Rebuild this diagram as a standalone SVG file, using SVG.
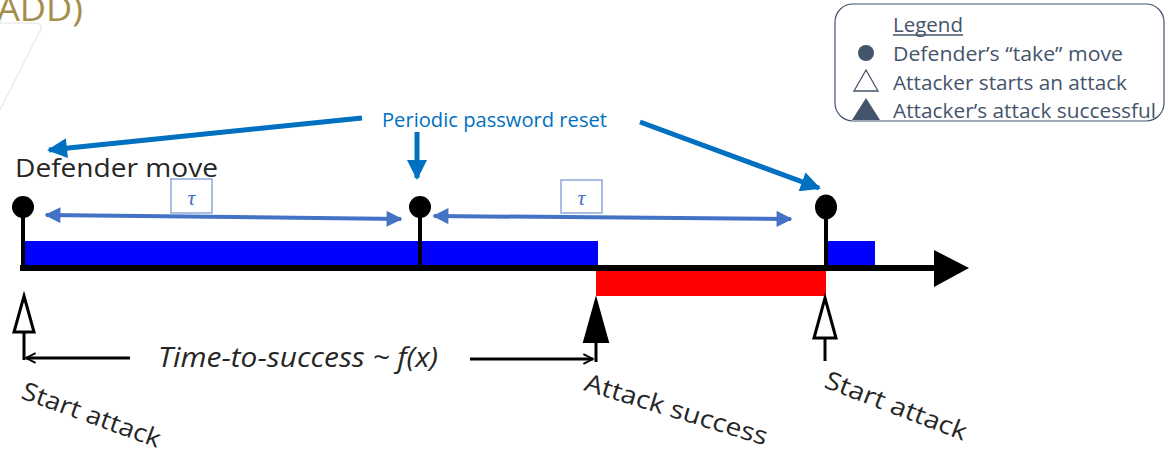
<svg xmlns="http://www.w3.org/2000/svg" width="1169" height="450" viewBox="0 0 1169 450">
  <defs>
    <style>
      .lbl { font-family: "Open Sans", "Liberation Sans", sans-serif; fill: #262626; }
      .leg { font-family: "Open Sans", "Liberation Sans", sans-serif; font-size: 19.5px; fill: #44546A; }
      .reset { stroke: #0070C0; stroke-width: 5; fill: none; }
      .tau { stroke: #4472C4; stroke-width: 4; fill: none; }
      .tbox { fill: #fff; stroke: #8EA9DB; stroke-width: 1.5; }
      .blk { stroke: #000; stroke-width: 4; fill: none; }
      .thin { stroke: #000; stroke-width: 3; fill: none; }
    </style>
    <marker id="headReset" viewBox="0 0 10 10" refX="9" refY="5" markerWidth="4.4" markerHeight="4" orient="auto" markerUnits="strokeWidth">
      <path d="M0,0 L10,5 L0,10 z" fill="#0070C0"/>
    </marker>
    <marker id="headTau" viewBox="0 0 10 10" refX="9" refY="5" markerWidth="5" markerHeight="4" orient="auto-start-reverse" markerUnits="strokeWidth">
      <path d="M0,0 L10,5 L0,10 z" fill="#4472C4"/>
    </marker>
    <marker id="headOpen" viewBox="0 0 10 10" refX="9" refY="5" markerWidth="4" markerHeight="4" orient="auto" markerUnits="strokeWidth">
      <path d="M1,1 L9,5 L1,9" fill="none" stroke="#000" stroke-width="1.6"/>
    </marker>
  </defs>

  <!-- heading fragment and faint frame line at top-left -->
  <text x="-3" y="21" font-family="'Open Sans', 'Liberation Sans', sans-serif" font-size="35" fill="#A58D4C" textLength="86" lengthAdjust="spacingAndGlyphs">ADD)</text>
  <path d="M0,23 L34,23 Q44,23 40,31 L0,110" fill="none" stroke="#ececec" stroke-width="1.5"/>

  <!-- time axis with ownership bars -->
  <g id="timeline">
    <rect x="24" y="241" width="574" height="26" fill="#0000FF"/>
    <rect x="826" y="241" width="49" height="26" fill="#0000FF"/>
    <rect x="596" y="270" width="230" height="26" fill="#FF0000"/>
    <line x1="20" y1="268" x2="940" y2="268" stroke="#000" stroke-width="6"/>
    <path d="M934,250 L969,268 L934,287 z" fill="#000"/>
  </g>

  <!-- defender moves -->
  <g id="defender-1">
    <line x1="23" y1="208" x2="23" y2="268" class="blk"/>
    <circle cx="23" cy="207" r="11" fill="#000"/>
  </g>
  <g id="defender-2">
    <line x1="420" y1="208" x2="420" y2="268" class="blk"/>
    <circle cx="420" cy="207" r="11" fill="#000"/>
  </g>
  <g id="defender-3">
    <line x1="826" y1="208" x2="826" y2="268" class="blk"/>
    <ellipse cx="826" cy="207" rx="11" ry="12.5" fill="#000"/>
  </g>
  <text class="lbl" x="15" y="177" font-size="26" textLength="203" lengthAdjust="spacingAndGlyphs">Defender move</text>

  <!-- attacker events -->
  <g id="attack-start-1">
    <path d="M24,296 L34,332 L14,332 z" fill="#fff" stroke="#000" stroke-width="3"/>
    <line x1="24" y1="332" x2="24" y2="360" class="thin"/>
  </g>
  <g id="attack-success">
    <path d="M596,299 L608,342 L584,342 z" fill="#000" stroke="#000" stroke-width="2"/>
    <line x1="596" y1="342" x2="596" y2="362" class="thin"/>
  </g>
  <g id="attack-start-2">
    <path d="M825,298 L836,338 L814,338 z" fill="#fff" stroke="#000" stroke-width="3"/>
    <line x1="825" y1="338" x2="825" y2="361" class="thin"/>
  </g>

  <!-- connectors -->
  <g id="connectors">
    <line x1="362" y1="118" x2="49" y2="150" class="reset" marker-end="url(#headReset)"/>
    <line x1="417" y1="132" x2="417" y2="178" class="reset" marker-end="url(#headReset)"/>
    <line x1="640" y1="122" x2="819" y2="188" class="reset" marker-end="url(#headReset)"/>
    <line x1="46" y1="215" x2="401" y2="219" class="tau" marker-start="url(#headTau)" marker-end="url(#headTau)"/>
    <line x1="434" y1="216" x2="791" y2="219" class="tau" marker-start="url(#headTau)" marker-end="url(#headTau)"/>
    <line x1="130" y1="358" x2="26" y2="358" class="thin" marker-end="url(#headOpen)"/>
    <line x1="470" y1="359" x2="593" y2="359" class="thin" marker-end="url(#headOpen)"/>
  </g>

  <!-- interval labels -->
  <g id="tau-1">
    <rect class="tbox" x="171" y="179" width="41" height="34"/>
    <text x="191.5" y="205" text-anchor="middle" font-family="'Liberation Serif', serif" font-style="italic" font-size="22" fill="#4472C4">τ</text>
  </g>
  <g id="tau-2">
    <rect class="tbox" x="561" y="180" width="41" height="33"/>
    <text x="581.5" y="205" text-anchor="middle" font-family="'Liberation Serif', serif" font-style="italic" font-size="22" fill="#4472C4">τ</text>
  </g>

  <text x="382" y="127" font-family="'Open Sans', 'Liberation Sans', sans-serif" font-size="20" fill="#0070C0" textLength="225" lengthAdjust="spacingAndGlyphs">Periodic password reset</text>
  <text class="lbl" x="158" y="367" font-size="28" font-style="italic" textLength="280" lengthAdjust="spacingAndGlyphs">Time-to-success ~ f(x)</text>

  <text class="lbl" font-size="25" textLength="146" lengthAdjust="spacingAndGlyphs" transform="translate(20,398) rotate(20)">Start attack</text>
  <text class="lbl" font-size="25" textLength="190" lengthAdjust="spacingAndGlyphs" transform="translate(583,390) rotate(17)">Attack success</text>
  <text class="lbl" font-size="25" textLength="150" lengthAdjust="spacingAndGlyphs" transform="translate(823,387) rotate(21)">Start attack</text>

  <!-- legend -->
  <g id="legend">
    <rect x="835" y="4" width="329" height="117" rx="18" fill="#fff" stroke="#44546A" stroke-width="1.2"/>
    <text class="leg" x="893" y="32" textLength="70" lengthAdjust="spacingAndGlyphs">Legend</text>
    <line x1="893" y1="35" x2="963" y2="35" stroke="#44546A" stroke-width="1.3"/>
    <circle cx="866" cy="53" r="8" fill="#44546A"/>
    <text class="leg" x="893" y="61" textLength="230" lengthAdjust="spacingAndGlyphs">Defender’s “take” move</text>
    <path d="M866,70 L878,91 L854,91 z" fill="#fff" stroke="#44546A" stroke-width="1.3"/>
    <text class="leg" x="893" y="90" textLength="234" lengthAdjust="spacingAndGlyphs">Attacker starts an attack</text>
    <path d="M866,98 L880,120 L852,120 z" fill="#44546A"/>
    <text class="leg" x="893" y="118" textLength="263" lengthAdjust="spacingAndGlyphs">Attacker’s attack successful</text>
  </g>
</svg>
